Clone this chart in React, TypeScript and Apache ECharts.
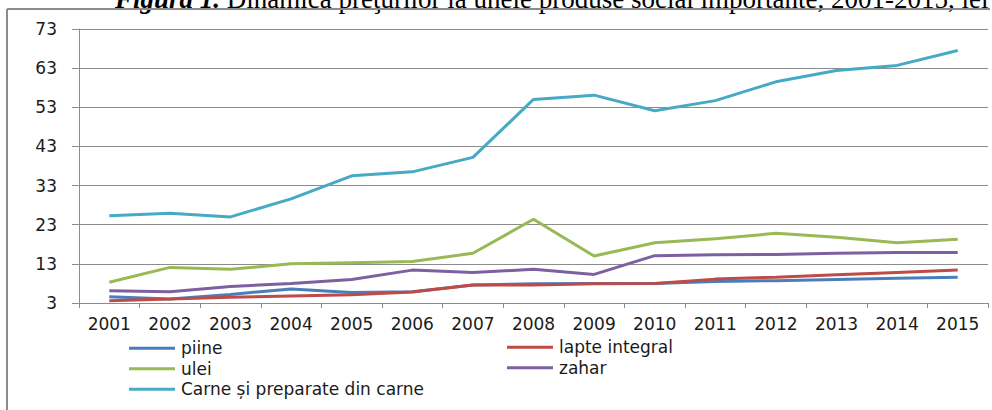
import React, { useEffect, useRef } from "react";
import * as echarts from "echarts";

const years = ["2001","2002","2003","2004","2005","2006","2007","2008","2009","2010","2011","2012","2013","2014","2015"];
const piine = [4.6, 4.0, 5.2, 6.6, 5.7, 5.9, 7.6, 7.9, 8.0, 8.0, 8.5, 8.7, 9.0, 9.3, 9.6];
const lapte = [3.6, 4.0, 4.5, 4.8, 5.1, 5.8, 7.6, 7.6, 7.9, 8.0, 9.1, 9.6, 10.2, 10.8, 11.4];
const ulei = [8.3, 12.1, 11.6, 13.0, 13.3, 13.6, 15.7, 24.4, 15.0, 18.4, 19.4, 20.8, 19.8, 18.4, 19.3];
const zahar = [6.1, 5.9, 7.2, 8.0, 9.0, 11.4, 10.8, 11.6, 10.3, 15.1, 15.3, 15.4, 15.7, 15.9, 15.9];
const carne = [25.3, 25.9, 25.0, 29.6, 35.5, 36.5, 40.2, 55.0, 56.1, 52.1, 54.7, 59.5, 62.4, 63.7, 67.5];

const seriesNames = ["piine", "lapte integral", "ulei", "zahar", "Carne și preparate din carne"];
const seriesData = [piine, lapte, ulei, zahar, carne];
const colors = ["#4A7EBB", "#BE4B48", "#98B954", "#7D60A0", "#46AAC5"];

const FONT = "DejaVu Sans";

export default function App() {
  const ref = useRef<HTMLDivElement>(null);
  useEffect(() => {
    if (!ref.current) return;
    const chart = echarts.init(ref.current, undefined, { renderer: "svg" });
    chart.setOption({
      animation: false,
      backgroundColor: "#ffffff",
      textStyle: { fontFamily: FONT },
      grid: { left: 79, right: 4, top: 29, bottom: 107, containLabel: false },
      xAxis: {
        type: "category",
        data: years,
        boundaryGap: true,
        axisLine: { show: true, lineStyle: { color: "#8C8C8C", width: 1 } },
        axisTick: { show: true, length: 5, lineStyle: { color: "#8C8C8C" } },
        axisLabel: { color: "#1a1a1a", fontSize: 17, fontFamily: FONT, margin: 12 },
        splitLine: { show: false },
      },
      yAxis: {
        type: "value",
        min: 3,
        max: 73,
        interval: 10,
        axisLine: { show: true, lineStyle: { color: "#8C8C8C", width: 1 } },
        axisTick: { show: true, length: 7, lineStyle: { color: "#8C8C8C" } },
        axisLabel: { color: "#1a1a1a", fontSize: 17, fontFamily: FONT, margin: 22 },
        splitLine: { show: true, lineStyle: { color: "#8C8C8C", width: 1 } },
      },
      legend: [
        {
          data: [seriesNames[0], seriesNames[2], seriesNames[4]],
          orient: "vertical",
          left: 129,
          top: 338,
          itemWidth: 46,
          itemHeight: 3,
          itemGap: 0,
          icon: "rect",
          padding: 0,
          textStyle: { color: "#1a1a1a", fontSize: 17, fontFamily: FONT, lineHeight: 20.5, padding: [0, 0, 0, 1] },
        },
        {
          data: [seriesNames[1], seriesNames[3]],
          orient: "vertical",
          left: 507,
          top: 337,
          itemWidth: 46,
          itemHeight: 3,
          itemGap: 0,
          icon: "rect",
          padding: 0,
          textStyle: { color: "#1a1a1a", fontSize: 17, fontFamily: FONT, lineHeight: 20.5, padding: [0, 0, 0, 1] },
        },
      ],
      graphic: [
        {
          type: "text",
          left: 115,
          top: -15,
          style: {
            text: "{b|Figura 1.} Dinamica preţurilor la unele produse social importante, 2001-2015, lei",
            fontFamily: "Liberation Serif",
            fontSize: 27,
            fill: "#000",
            rich: {
              b: { fontFamily: "Liberation Serif", fontSize: 27, fontWeight: "bold", fontStyle: "italic", fill: "#000" },
            },
          },
          z: 10,
        },
        {
          type: "line",
          shape: { x1: 7, y1: 9, x2: 990, y2: 9 },
          style: { stroke: "#8C8C8C", lineWidth: 2 },
          z: 11,
        },
        {
          type: "line",
          shape: { x1: 7, y1: 9, x2: 7, y2: 410 },
          style: { stroke: "#8C8C8C", lineWidth: 2 },
          z: 11,
        },
      ],
      series: seriesNames.map((name, i) => ({
        name,
        type: "line",
        data: seriesData[i],
        symbol: "none",
        smooth: false,
        color: colors[i],
        lineStyle: { width: 3, color: colors[i] },
      })),
    });
    return () => chart.dispose();
  }, []);
  return <div ref={ref} style={{ position: "fixed", left: 0, top: 0, width: 992, height: 410 }} />;
}
